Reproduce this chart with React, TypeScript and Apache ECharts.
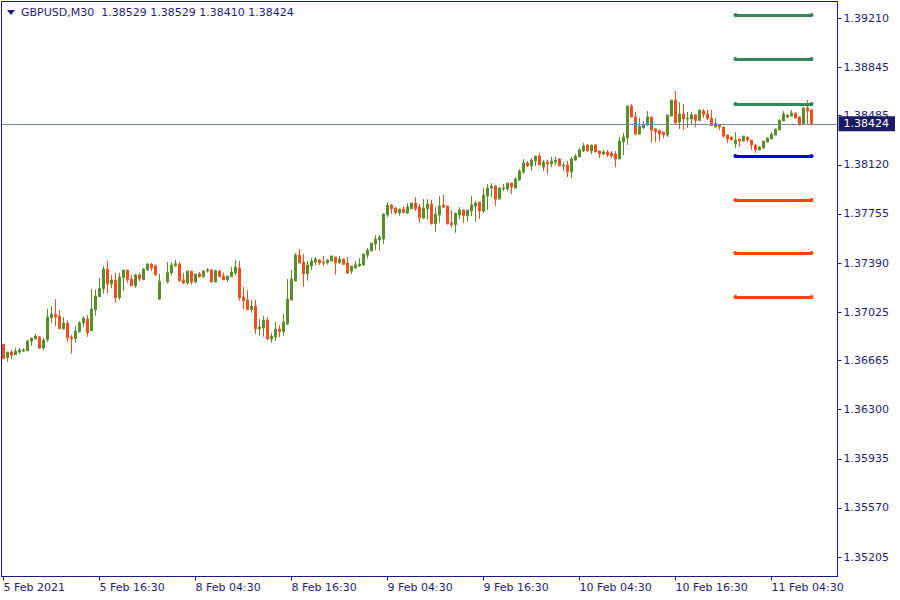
import React, { useEffect, useRef } from "react";
import * as echarts from "echarts";

const symbolName = "GBPUSD,M30";
const xLabels = ["5 Feb 2021", "5 Feb 16:30", "8 Feb 04:30", "8 Feb 16:30", "9 Feb 04:30", "9 Feb 16:30", "10 Feb 04:30", "10 Feb 16:30", "11 Feb 04:30"];
const barsPerLabel = 24;
const emptySlots = 6;
const yTicks = [1.3921, 1.38845, 1.38485, 1.3812, 1.37755, 1.3739, 1.37025, 1.36665, 1.363, 1.35935, 1.3557, 1.35205];
const yMin = 1.35061;
const yMax = 1.39333;
const levels = [1.39233, 1.38906, 1.38571, 1.38185, 1.37858, 1.37464, 1.37137];
const levelColors = ["#2E8B57", "#2E8B57", "#2E8B57", "#0000F0", "#FF4500", "#FF4500", "#FF4500"];
const levelFrom = 183;
const levelTo = 202;
const fadedBars = [40];

// [open, high, low, close]
const candles: number[][] = [
  [1.36786, 1.36788, 1.36677, 1.36679], [1.36686, 1.36729, 1.36657, 1.36729], [1.36729, 1.36746, 1.36677, 1.36706], [1.36709, 1.36758, 1.36709, 1.36736],
  [1.36729, 1.36758, 1.36714, 1.36744], [1.36736, 1.36758, 1.36729, 1.36744], [1.36738, 1.3682, 1.36738, 1.3681], [1.3681, 1.36833, 1.36775, 1.36833],
  [1.36825, 1.36862, 1.36825, 1.36847], [1.3684, 1.36847, 1.36753, 1.36758], [1.36758, 1.36833, 1.36746, 1.36818], [1.3682, 1.37048, 1.36805, 1.36989],
  [1.36984, 1.3707, 1.36946, 1.37011], [1.37009, 1.37122, 1.36922, 1.36989], [1.36996, 1.37041, 1.36902, 1.36902], [1.36902, 1.36989, 1.36894, 1.36944],
  [1.36944, 1.36964, 1.36805, 1.36835], [1.3684, 1.36855, 1.36716, 1.36827], [1.36827, 1.36924, 1.36798, 1.36885], [1.3688, 1.36957, 1.36872, 1.36944],
  [1.36944, 1.36994, 1.36912, 1.36981], [1.36974, 1.37004, 1.36842, 1.36872], [1.36887, 1.37199, 1.36887, 1.37048], [1.37043, 1.37194, 1.36998, 1.37145],
  [1.3714, 1.37278, 1.3714, 1.37204], [1.37199, 1.37368, 1.37162, 1.37345], [1.37345, 1.37407, 1.37165, 1.37234], [1.37236, 1.37301, 1.37202, 1.37264],
  [1.37264, 1.37316, 1.37095, 1.37132], [1.37132, 1.37316, 1.37115, 1.37286], [1.37281, 1.37338, 1.37182, 1.37338], [1.37338, 1.37338, 1.37244, 1.37266],
  [1.37271, 1.37301, 1.37221, 1.37221], [1.37221, 1.3731, 1.37206, 1.37301], [1.37301, 1.37316, 1.37256, 1.37273], [1.37266, 1.37353, 1.37266, 1.37345],
  [1.3734, 1.3739, 1.3733, 1.37382], [1.37382, 1.3739, 1.3733, 1.37353], [1.37368, 1.3738, 1.37301, 1.37301], [1.37122, 1.37308, 1.37115, 1.37256],
  [1.37264, 1.37323, 1.37226, 1.37271], [1.37249, 1.37397, 1.37239, 1.37318], [1.37318, 1.37397, 1.37296, 1.37375], [1.3737, 1.37412, 1.37362, 1.37385],
  [1.37382, 1.37397, 1.37251, 1.37258], [1.37266, 1.37316, 1.37236, 1.37241], [1.37241, 1.3733, 1.37229, 1.3733], [1.3733, 1.3733, 1.37229, 1.37249],
  [1.37249, 1.37308, 1.37241, 1.37308], [1.3731, 1.37323, 1.37281, 1.37288], [1.37288, 1.37338, 1.37281, 1.3733], [1.3733, 1.37353, 1.37318, 1.3734],
  [1.3734, 1.3734, 1.37249, 1.37249], [1.37249, 1.3734, 1.37249, 1.37333], [1.3733, 1.3734, 1.37288, 1.37288], [1.37293, 1.37318, 1.37266, 1.37266],
  [1.37266, 1.37293, 1.37251, 1.37293], [1.37288, 1.37362, 1.37288, 1.37323], [1.37316, 1.37412, 1.37296, 1.3736], [1.37353, 1.37405, 1.3711, 1.37132],
  [1.37137, 1.37212, 1.37048, 1.3711], [1.37115, 1.37189, 1.37043, 1.37043], [1.37043, 1.37115, 1.37021, 1.3707], [1.3707, 1.37115, 1.36862, 1.369],
  [1.369, 1.36974, 1.3685, 1.36914], [1.36907, 1.36996, 1.36842, 1.36966], [1.36966, 1.36989, 1.36818, 1.36825], [1.36825, 1.3687, 1.36798, 1.36847],
  [1.3684, 1.36952, 1.36813, 1.369], [1.369, 1.36929, 1.3684, 1.3688], [1.3688, 1.37011, 1.3685, 1.36952], [1.36937, 1.37271, 1.36929, 1.37122],
  [1.37115, 1.37338, 1.37115, 1.37271], [1.37256, 1.37464, 1.37256, 1.37449], [1.37449, 1.37494, 1.3739, 1.3739], [1.37397, 1.37457, 1.37214, 1.3731],
  [1.3731, 1.37405, 1.37258, 1.37375], [1.37368, 1.37427, 1.37338, 1.37405], [1.37397, 1.37434, 1.37375, 1.3742], [1.37412, 1.3742, 1.37375, 1.3739],
  [1.37397, 1.37442, 1.37368, 1.3739], [1.37392, 1.3742, 1.37377, 1.37412], [1.37405, 1.37442, 1.37405, 1.37442], [1.37434, 1.37434, 1.37303, 1.37392],
  [1.3739, 1.37442, 1.3739, 1.3742], [1.3742, 1.3742, 1.37375, 1.3738], [1.3739, 1.37434, 1.37308, 1.37316], [1.3733, 1.37368, 1.37308, 1.37368],
  [1.37353, 1.37405, 1.37345, 1.37377], [1.37368, 1.37427, 1.3736, 1.37382], [1.37375, 1.37457, 1.3737, 1.37457], [1.37449, 1.37501, 1.37422, 1.37486],
  [1.37479, 1.37538, 1.37479, 1.37538], [1.37531, 1.37598, 1.37486, 1.37568], [1.37561, 1.37598, 1.37481, 1.37583], [1.37568, 1.37754, 1.37531, 1.37754],
  [1.37747, 1.37843, 1.37732, 1.37821], [1.37821, 1.37828, 1.37756, 1.37793], [1.37799, 1.37806, 1.37754, 1.37764], [1.37764, 1.37791, 1.37741, 1.37791],
  [1.37791, 1.37813, 1.37764, 1.37764], [1.37761, 1.37836, 1.37756, 1.37806], [1.37793, 1.37836, 1.37793, 1.37836], [1.37836, 1.3788, 1.37776, 1.37793],
  [1.37806, 1.37828, 1.37689, 1.37727], [1.37724, 1.37865, 1.37717, 1.37799], [1.37793, 1.37865, 1.37712, 1.37828], [1.37828, 1.37858, 1.37675, 1.37682],
  [1.37682, 1.37806, 1.37623, 1.37754], [1.37749, 1.37888, 1.37689, 1.37813], [1.37821, 1.37895, 1.37799, 1.37806], [1.37813, 1.37813, 1.37675, 1.37682],
  [1.37687, 1.37784, 1.37652, 1.37675], [1.37675, 1.37761, 1.37615, 1.37761], [1.37747, 1.37806, 1.37717, 1.37784], [1.37784, 1.37784, 1.37689, 1.37741],
  [1.37741, 1.37784, 1.37697, 1.37784], [1.37776, 1.37888, 1.37739, 1.37821], [1.37813, 1.37851, 1.37697, 1.37836], [1.37843, 1.37843, 1.37717, 1.37776],
  [1.37776, 1.37947, 1.37761, 1.37895], [1.37888, 1.37977, 1.37784, 1.37947], [1.37947, 1.37984, 1.3788, 1.37962], [1.37962, 1.37969, 1.37813, 1.37865],
  [1.37865, 1.37955, 1.37865, 1.37947], [1.3794, 1.37977, 1.37925, 1.37947], [1.3794, 1.37984, 1.37925, 1.37984], [1.37984, 1.37984, 1.37903, 1.37955],
  [1.37947, 1.38029, 1.37947, 1.38014], [1.38007, 1.38088, 1.37999, 1.38074], [1.38066, 1.38163, 1.38051, 1.38133], [1.38133, 1.38148, 1.38103, 1.38111],
  [1.38111, 1.3817, 1.38074, 1.38155], [1.38148, 1.38185, 1.38111, 1.38185], [1.38185, 1.38207, 1.38118, 1.38118], [1.38103, 1.38155, 1.38074, 1.3814],
  [1.3814, 1.38155, 1.38051, 1.38126], [1.38126, 1.38178, 1.38103, 1.38148], [1.3814, 1.38178, 1.38118, 1.38155], [1.38163, 1.3817, 1.38111, 1.38111],
  [1.38111, 1.3814, 1.38074, 1.38118], [1.38118, 1.38148, 1.38029, 1.38066], [1.38066, 1.38178, 1.38021, 1.38163], [1.38155, 1.382, 1.38148, 1.38185],
  [1.38178, 1.38244, 1.38178, 1.3823], [1.38222, 1.38282, 1.38215, 1.38259], [1.38267, 1.38267, 1.38222, 1.38222], [1.38222, 1.38267, 1.382, 1.38267],
  [1.38267, 1.38274, 1.38215, 1.38215], [1.38222, 1.38222, 1.3817, 1.382], [1.382, 1.3823, 1.38192, 1.38215], [1.38215, 1.3823, 1.38178, 1.38192],
  [1.38207, 1.38222, 1.3817, 1.38185], [1.382, 1.38222, 1.38103, 1.38163], [1.38163, 1.38326, 1.38163, 1.38296], [1.38289, 1.38356, 1.38192, 1.38326],
  [1.38319, 1.38564, 1.38267, 1.38556], [1.38556, 1.38571, 1.38467, 1.38475], [1.38475, 1.38512, 1.38341, 1.38348], [1.38348, 1.38467, 1.38341, 1.38408],
  [1.38393, 1.38445, 1.38393, 1.38423], [1.38415, 1.38519, 1.38408, 1.38475], [1.38475, 1.38475, 1.38285, 1.38378], [1.38386, 1.38393, 1.38289, 1.38365],
  [1.38374, 1.38378, 1.38296, 1.38348], [1.38363, 1.38363, 1.38319, 1.38341], [1.38341, 1.3849, 1.38326, 1.3849], [1.38482, 1.38601, 1.38482, 1.38601],
  [1.38601, 1.38668, 1.3843, 1.3843], [1.38438, 1.38586, 1.38386, 1.38497], [1.38497, 1.38571, 1.38378, 1.3846], [1.3846, 1.38512, 1.38393, 1.38467],
  [1.3846, 1.38512, 1.38423, 1.3849], [1.3849, 1.38497, 1.384, 1.38449], [1.38449, 1.38527, 1.38449, 1.38527], [1.38519, 1.38534, 1.38467, 1.38493],
  [1.38497, 1.38527, 1.38452, 1.38464], [1.38464, 1.38527, 1.38412, 1.38412], [1.384, 1.38467, 1.384, 1.38426], [1.38419, 1.38419, 1.38378, 1.384],
  [1.384, 1.384, 1.38319, 1.38334], [1.38341, 1.38341, 1.38282, 1.38311], [1.38326, 1.38326, 1.38304, 1.38304], [1.38274, 1.38363, 1.38244, 1.38304],
  [1.38311, 1.38311, 1.38252, 1.38296], [1.38296, 1.38334, 1.38296, 1.38334], [1.38326, 1.38326, 1.38289, 1.38304], [1.38304, 1.38304, 1.3823, 1.38267],
  [1.38267, 1.38267, 1.38207, 1.3823], [1.3823, 1.38259, 1.3823, 1.38252], [1.38244, 1.38296, 1.38244, 1.38296], [1.38289, 1.38326, 1.38289, 1.38319],
  [1.38311, 1.38363, 1.38311, 1.38348], [1.38341, 1.38386, 1.38341, 1.38386], [1.38378, 1.3846, 1.38378, 1.38452], [1.38445, 1.38519, 1.38445, 1.38497],
  [1.38475, 1.3849, 1.38467, 1.3849], [1.38482, 1.38527, 1.38482, 1.38504], [1.38504, 1.38504, 1.38467, 1.38467], [1.38475, 1.38475, 1.38415, 1.38415],
  [1.38423, 1.38549, 1.38423, 1.38542], [1.38542, 1.38601, 1.38415, 1.38519], [1.38529, 1.38529, 1.3841, 1.38424],
];

const BULL = "#5A8E2A";
const BEAR = "#F24E1E";
const FADED = "#F4E6D4";
const NAVY = "#1E1E7A";
const FRAME = "#1A1A8C";
const FONT = "DejaVu Sans";

export default function App() {
  const ref = useRef<HTMLDivElement>(null);
  useEffect(() => {
    if (!ref.current) return;
    const chart = echarts.init(ref.current, null, { renderer: "svg" });
    const total = candles.length + emptySlots;
    const cats = Array.from({ length: total }, (_, i) => String(i));
    const last = candles[candles.length - 1];
    const data = candles.map((c, i) => {
      const v = [c[0], c[3], c[2], c[1]];
      if (fadedBars.includes(i)) {
        return { value: v, itemStyle: { color: FADED, color0: FADED, borderColor: FADED, borderColor0: FADED } };
      }
      return v;
    });
    const isLabel = (i: number) => i % barsPerLabel === 0 && i / barsPerLabel < xLabels.length;
    const titleText = `${symbolName}  ${last[0].toFixed(5)} ${last[1].toFixed(5)} ${last[2].toFixed(5)} ${last[3].toFixed(5)}`;

    chart.setOption({
      animation: false,
      backgroundColor: "#ffffff",
      grid: {
        left: 1.5,
        top: 1.5,
        right: 62.5,
        bottom: 23.5,
        show: true,
        borderColor: FRAME,
        borderWidth: 1,
        backgroundColor: "#ffffff",
        outerBoundsMode: "none",
        containLabel: false,
      },
      graphic: [
        { type: "polygon", shape: { points: [[7, 10], [15, 10], [11, 15]] }, style: { fill: NAVY } },
        {
          type: "text",
          x: 21,
          y: 12,
          style: { text: titleText, fill: NAVY, font: `11px '${FONT}'`, textVerticalAlign: "middle", verticalAlign: "middle" },
        },
      ],
      xAxis: {
        type: "category",
        data: cats,
        boundaryGap: true,
        axisLine: { show: true, lineStyle: { color: FRAME, width: 1 } },
        axisTick: { show: true, alignWithLabel: true, length: 4, interval: (i: number) => isLabel(i), lineStyle: { color: FRAME } },
        axisLabel: {
          show: true,
          interval: (i: number) => isLabel(i),
          formatter: (_v: string, i: number) => xLabels[i / barsPerLabel] ?? "",
          align: "left",
          margin: 5,
          color: NAVY,
          fontFamily: FONT,
          fontSize: 11,
        },
        splitLine: { show: false },
      },
      yAxis: {
        type: "value",
        position: "right",
        min: yMin,
        max: yMax,
        scale: true,
        splitLine: { show: false },
        axisLine: { show: true, lineStyle: { color: FRAME, width: 1 } },
        axisTick: { show: true, length: 4, customValues: yTicks, lineStyle: { color: FRAME } },
        axisLabel: {
          show: true,
          customValues: yTicks,
          formatter: (v: number) => v.toFixed(5),
          margin: 6,
          color: NAVY,
          fontFamily: FONT,
          fontSize: 11,
        },
      },
      series: [
        {
          type: "candlestick",
          data,
          barWidth: 2,
          itemStyle: { color: BULL, color0: BEAR, borderColor: BULL, borderColor0: BEAR, borderWidth: 1 },
          markLine: {
            silent: true,
            symbol: ["none", "none"],
            precision: 5,
            animation: false,
            data: [
              {
                yAxis: last[3],
                lineStyle: { color: "#7A8A9E", width: 1, type: "solid" },
                label: {
                  show: true,
                  position: "end",
                  formatter: () => last[3].toFixed(5),
                  backgroundColor: "#1B1B66",
                  color: "#ffffff",
                  fontFamily: FONT,
                  fontSize: 11,
                  padding: [2, 6, 2, 5],
                  distance: 1,
                },
              },
              ...levels.map((v, i) => [
                {
                  coord: [levelFrom, v],
                  symbol: "circle",
                  symbolSize: 4,
                  lineStyle: { color: levelColors[i], width: 3, type: "solid", cap: "round" },
                  itemStyle: { color: levelColors[i] },
                  label: { show: false },
                },
                { coord: [levelTo, v], symbol: "circle", symbolSize: 4, itemStyle: { color: levelColors[i] } },
              ]),
            ],
          },
        },
      ],
    });
    return () => chart.dispose();
  }, []);
  return <div ref={ref} style={{ position: "fixed", left: 0, top: 0, width: 900, height: 600, background: "#fff" }} />;
}
